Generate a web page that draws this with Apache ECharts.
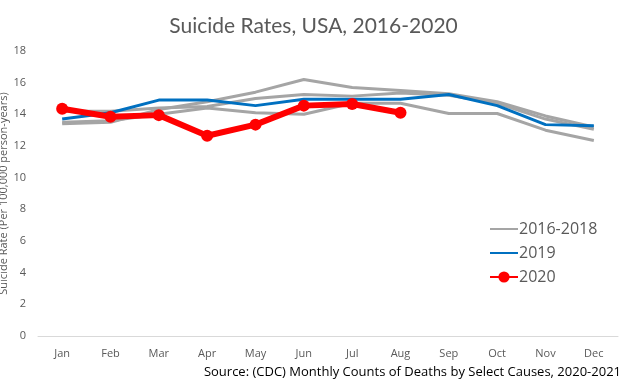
<!DOCTYPE html>
<html><head><meta charset="utf-8">
<script src="https://cdn.jsdelivr.net/npm/echarts@6/dist/echarts.min.js"></script>
<style>html,body{margin:0;padding:0;background:#fff}#c{width:627px;height:383px}</style>
</head><body><div id="c"></div>
<script>
const months = ['Jan','Feb','Mar','Apr','May','Jun','Jul','Aug','Sep','Oct','Nov','Dec'];
const gray2016 = [13.4, 13.5, 14.3, 14.8, 15.4, 16.2, 15.7, 15.5, 15.3, 14.8, 13.9, 13.2];
const gray2017 = [13.5, 13.6, 14.0, 14.4, 14.1, 14.0, 14.7, 14.7, 14.05, 14.05, 13.0, 12.35];
const gray2018 = [14.2, 14.2, 14.4, 14.5, 15.0, 15.25, 15.15, 15.35, 15.2, 14.7, 13.7, 13.05];
const s2019 = [13.7, 14.1, 14.9, 14.9, 14.55, 14.95, 14.95, 14.95, 15.25, 14.55, 13.35, 13.28];
const s2020 = [14.35, 13.85, 13.95, 12.65, 13.35, 14.55, 14.65, 14.1];
const yTicks = [0, 2, 4, 6, 8, 10, 12, 14, 16, 18];

const chart = echarts.init(document.getElementById('c'), null, {renderer: 'canvas'});
const grayStyle = {color: '#A5A5A5', width: 3};
function graySeries(d) {
  return {name: '2016-2018', type: 'line', data: d, symbol: 'none', lineStyle: grayStyle, itemStyle: {color: '#A5A5A5'}, z: 2};
}
chart.setOption({
  animation: false,
  title: {
    text: 'Suicide Rates, USA, 2016-2020', left: 'center', top: 11,
    textStyle: {fontFamily: 'Lato', fontSize: 21, fontWeight: 'normal', color: '#595959'}
  },
  graphic: [{
    type: 'text', right: 6, top: 366,
    style: {text: 'Source: (CDC) Monthly Counts of Deaths by Select Causes, 2020-2021', font: '13px "Open Sans", sans-serif', fill: '#000'}
  }],
  legend: {
    orient: 'vertical', left: 484, top: 216, itemGap: 8, itemWidth: 28, itemHeight: 14,
    data: [
      {name: '2016-2018', itemStyle: {opacity: 0}},
      {name: '2019', itemStyle: {opacity: 0}},
      {name: '2020'}
    ],
    textStyle: {fontFamily: '"Open Sans", sans-serif', fontSize: 16, color: '#595959', padding: [0, 0, 0, -4]}
  },
  grid: {left: 38, right: 9, top: 51, bottom: 47, containLabel: false, outerBoundsMode: 'none'},
  xAxis: {
    type: 'category', data: months, boundaryGap: true,
    axisLine: {lineStyle: {color: '#D9D9D9'}}, axisTick: {show: false},
    axisLabel: {color: '#595959', fontSize: 11, fontFamily: '"Open Sans", sans-serif', margin: 12}
  },
  yAxis: {
    type: 'value', min: yTicks[0], max: yTicks[yTicks.length - 1], interval: 2,
    name: 'Suicide Rate (Per 100,000 person-years)', nameLocation: 'middle', nameGap: 29, nameMoveOverlap: false,
    nameTextStyle: {color: '#595959', fontSize: 11, fontFamily: '"Open Sans", sans-serif'},
    splitLine: {show: false}, axisLine: {show: false}, axisTick: {show: false},
    axisLabel: {color: '#595959', fontSize: 11, fontFamily: '"Open Sans", sans-serif', margin: 12}
  },
  series: [
    graySeries(gray2016),
    graySeries(gray2017),
    graySeries(gray2018),
    {name: '2019', type: 'line', data: s2019, symbol: 'none', lineStyle: {color: '#0070C0', width: 3}, itemStyle: {color: '#0070C0'}, z: 3},
    {name: '2020', type: 'line', data: s2020, symbol: 'circle', symbolSize: 12, lineStyle: {color: '#FF0000', width: 6}, itemStyle: {color: '#FF0000'}, z: 4}
  ]
});
</script></body></html>
